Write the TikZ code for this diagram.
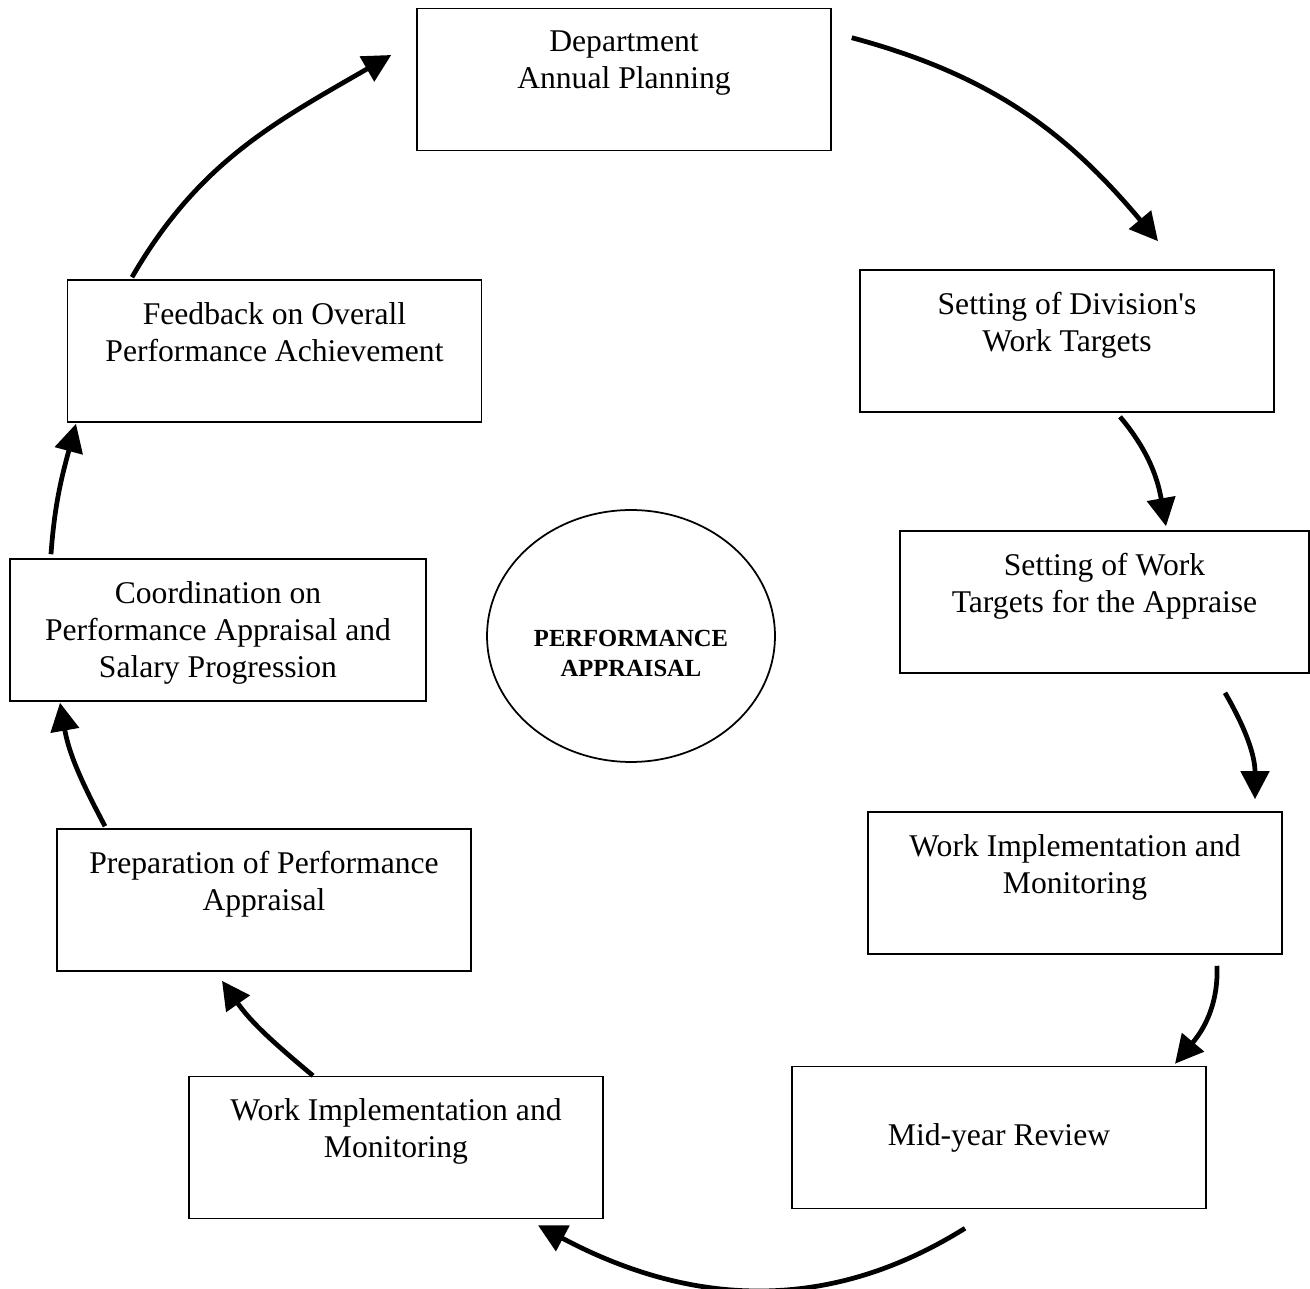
\documentclass[tikz,border=0pt]{standalone}
\usepackage{fontspec}
\setmainfont{Liberation Serif}
\usetikzlibrary{arrows.meta, calc, shapes.geometric}

\tikzset{
  stagebox/.style = {draw, line width = 0.9pt, minimum width = 8.28cm, minimum height = 2.84cm, inner sep = 0pt},
  stagetext/.style = {font = \fontsize{18}{21}\selectfont, align = center, inner sep = 0pt, anchor = north},
  cycle/.style = {-{Triangle[length = 16pt, width = 16pt]}, line width = 2.7pt}
}

\begin{document}
\begin{tikzpicture}[x = 0.02cm, y = 0.02cm]
  \useasboundingbox (0, 0) rectangle (1310, 1288);
  % boxes of the cycle
  \node[stagebox] (dap) at (624, 1208.5) {};
  \node[stagebox] (sdw) at (1067, 947) {};
  \node[stagebox, minimum width = 8.18cm] (swt) at (1104.5, 686) {};
  \node[stagebox] (wir) at (1075, 405) {};
  \node[stagebox] (myr) at (999, 150.5) {};
  \node[stagebox] (wil) at (396, 140.5) {};
  \node[stagebox] (ppa) at (264, 388) {};
  \node[stagebox, minimum width = 8.32cm] (cpa) at (218, 658) {};
  \node[stagebox] (fop) at (274.5, 937) {};
  \node[draw, ellipse, line width = 1pt, minimum width = 5.76cm, minimum height = 5.04cm] (pa) at (631, 652) {};
  % texts
  \node[stagetext] (dapt) at ([yshift = -13pt]dap.north) {Department\\Annual Planning};
  \node[stagetext] (sdwt) at ([yshift = -13pt]sdw.north) {Setting of Division\textquotesingle s\\Work Targets};
  \node[stagetext] (swtt) at ([yshift = -13pt]swt.north) {Setting of Work\\Targets for the Appraise};
  \node[stagetext] (wirt) at ([yshift = -13pt]wir.north) {Work Implementation and\\Monitoring};
  \node[stagetext, anchor = center] (myrt) at (myr) {Mid-year Review};
  \node[stagetext] (wilt) at ([yshift = -13pt]wil.north) {Work Implementation and\\Monitoring};
  \node[stagetext] (ppat) at ([yshift = -13pt]ppa.north) {Preparation of Performance\\Appraisal};
  \node[stagetext] (cpat) at ([yshift = -13pt]cpa.north) {Coordination on\\Performance Appraisal and\\Salary Progression};
  \node[stagetext] (fopt) at ([yshift = -13pt]fop.north) {Feedback on Overall\\Performance Achievement};
  \node[font = \bfseries\fontsize{14}{17}\selectfont, align = center, inner sep = 0pt] (pat) at ([yshift = -10pt]pa.center) {PERFORMANCE\\APPRAISAL};
  % arrows
  \draw[cycle] ($(dap.north east) + (20, -30)$) to[out = -15, in = 130] ($(sdw.north) + (91, 28)$);
  \draw[cycle] ($(sdw.south) + (53, -4)$) to[out = -50, in = 100] ($(swt.north) + (61.5, 4)$);
  \draw[cycle] ($(swt.south) + (120.5, -19)$) to[out = -60, in = 90] ($(wir.north) + (180, 12)$);
  \draw[cycle] ($(wir.south) + (142, -11)$) to[out = -88, in = 50] ($(myr.north) + (176, 2)$);
  \draw[cycle] ($(myr.south) + (-34, -19)$) to[out = -148, in = -28] ($(wil.south) + (142, -6)$);
  \draw[cycle] ($(wil.north) + (-83, 0)$) to[out = 140, in = -55] ($(ppa.south) + (-42, -9)$);
  \draw[cycle] ($(ppa.north) + (-159, 2)$) to[out = 118, in = -80] ($(cpa.south) + (-158, -1)$);
  \draw[cycle] ($(cpa.north) + (-167, 4)$) to[out = 86, in = -105] ($(fop.south) + (-198.5, -1)$);
  \draw[cycle] ($(fop.north) + (-142.5, 2)$) to[out = 60, in = -150] ($(dap.west) + (-25, 24.5)$);
\end{tikzpicture}
\end{document}
